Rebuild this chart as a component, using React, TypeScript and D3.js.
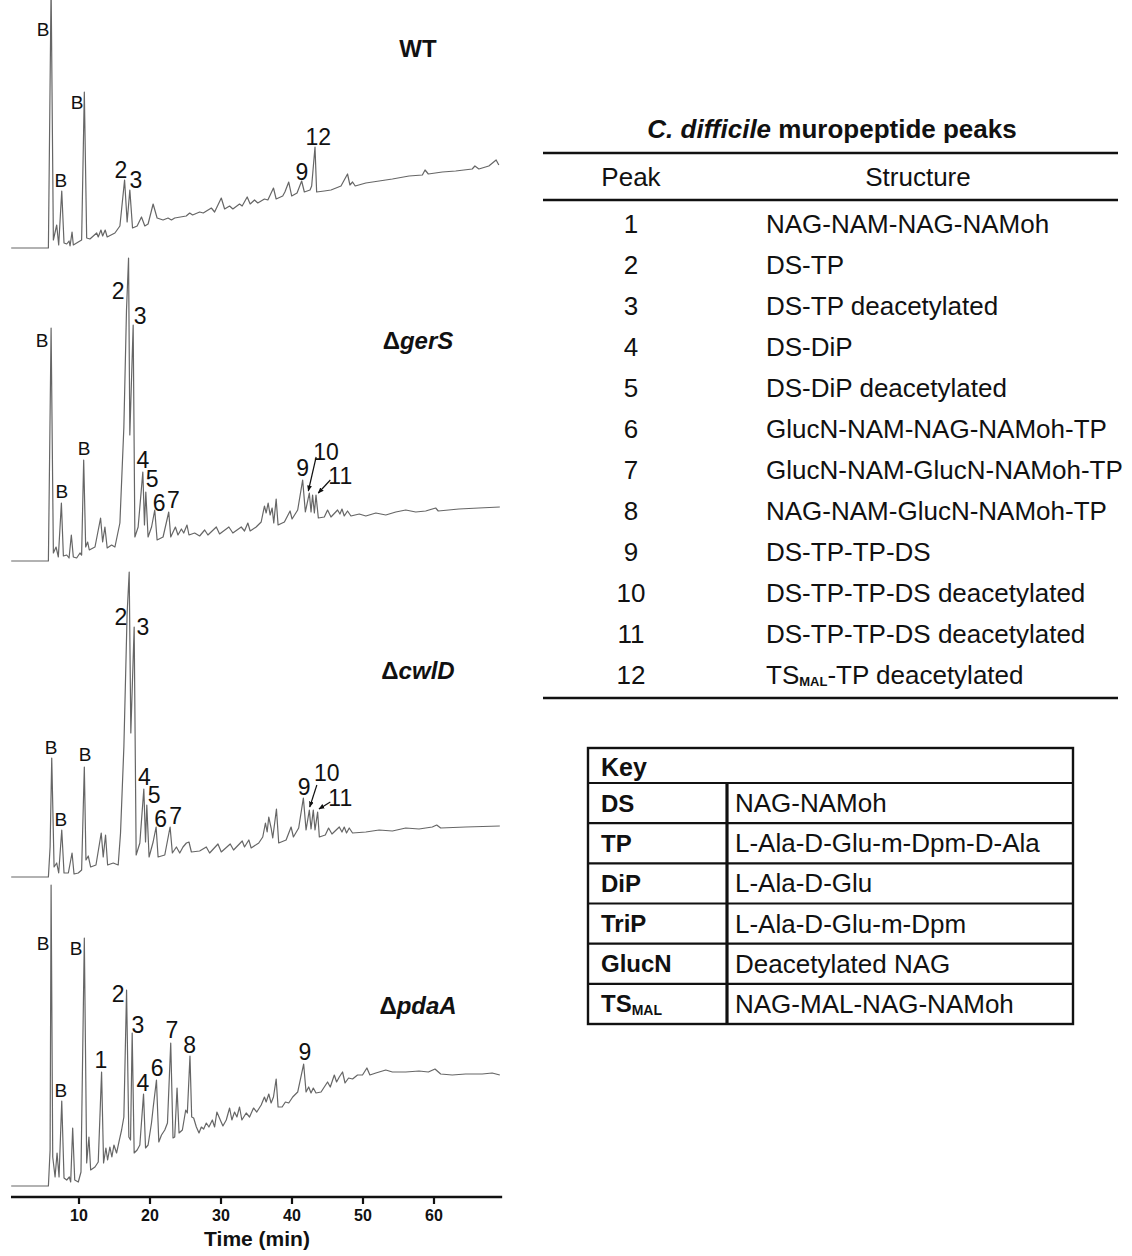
import React from "react";
import * as d3 from "d3";

const W = 1132;
const H = 1256;

// x axis (retention time, min)
const timeTicks = [10, 20, 30, 40, 50, 60];

// chromatogram traces: [time (min), signal above the pre-injection baseline]
const wtTrace: [number, number][] = [
  [0.45, 0], [5.69, 0], [6.07, 262], [6.39, 8], [6.86, 23], [7.14, 3], [7.57, 57], [7.89, 5], [8.27, 4],
  [8.6, 7], [8.74, 2], [9.02, 16], [9.2, 3], [9.9, 6], [10.37, 8], [10.75, 156], [11.08, 10], [11.54, 9],
  [12.49, 15], [12.71, 11], [13.09, 18], [13.33, 12], [13.69, 18], [13.97, 11], [15.06, 15], [15.76, 22],
  [16.42, 68], [16.78, 26], [17.16, 58], [17.54, 20], [18.19, 22], [18.8, 31], [19.27, 22], [19.73, 24],
  [20.44, 44], [21.0, 30], [21.84, 28], [22.54, 30], [23.02, 28], [23.48, 30], [25.1, 32], [25.59, 35],
  [26.0, 33], [27.0, 36], [27.5, 35], [28.64, 40], [29.1, 36], [30.04, 50], [30.51, 39], [31.21, 42],
  [31.67, 39], [32.61, 44], [32.98, 42], [33.69, 51], [34.11, 44], [34.72, 48], [35.18, 45], [36.12, 49],
  [36.6, 48], [37.39, 60], [37.77, 49], [38.69, 52], [39.0, 56], [39.54, 66], [39.96, 52], [40.71, 55],
  [41.36, 67], [41.74, 56], [42.54, 58], [42.77, 62], [43.24, 101], [43.47, 56], [44.55, 57], [45.49, 58],
  [46.2, 60], [46.9, 62], [47.82, 74], [48.16, 63], [48.53, 66], [48.9, 62], [50.4, 65], [52.27, 67],
  [54.14, 69], [56.49, 72], [58.36, 73], [58.74, 78], [59.2, 74], [61.17, 76], [63.05, 77], [65.38, 79],
  [65.76, 82], [66.32, 79], [67.72, 82], [68.75, 88], [69.13, 83],
];

const gersTrace: [number, number][] = [
  [0.45, 0], [5.69, 0], [6.07, 233], [6.39, 8], [6.77, 14], [7.09, 4], [7.52, 58], [7.8, 5], [8.27, 6],
  [8.6, 3], [8.92, 26], [9.2, 4], [9.67, 3], [10.14, 8], [10.37, 6], [10.66, 101], [10.94, 14], [11.22, 19],
  [11.45, 11], [12.25, 14], [13.04, 43], [13.33, 19], [13.65, 34], [13.97, 13], [14.59, 16], [15.06, 14],
  [15.76, 38], [16.32, 134], [16.69, 251], [16.98, 303], [17.16, 126], [17.63, 236], [17.87, 24], [18.33, 34],
  [18.99, 89], [19.22, 36], [19.41, 69], [19.73, 24], [20.22, 34], [20.67, 51], [21.0, 21], [21.84, 24],
  [22.64, 49], [22.92, 24], [23.58, 34], [23.94, 26], [24.42, 32], [24.75, 28], [25.21, 36], [25.49, 26],
  [26.29, 28], [26.99, 25], [27.7, 31], [28.16, 26], [29.34, 34], [29.8, 27], [31.11, 34], [31.67, 28],
  [32.85, 34], [33.31, 30], [33.78, 38], [34.11, 30], [34.95, 34], [35.66, 39], [36.12, 55], [36.36, 48],
  [36.64, 58], [36.92, 46], [37.2, 53], [37.43, 38], [37.77, 62], [38.04, 36], [38.93, 39], [39.73, 50],
  [40.01, 42], [40.8, 51], [41.5, 81], [41.88, 49], [42.44, 68], [42.68, 49], [42.9, 66], [43.15, 48],
  [43.38, 66], [43.71, 43], [44.55, 44], [45.01, 51], [45.49, 44], [46.42, 51], [46.75, 47], [47.04, 52],
  [47.36, 45], [47.82, 50], [48.3, 45], [49.47, 47], [50.4, 45], [51.81, 48], [53.21, 46], [54.62, 49],
  [56.02, 51], [57.43, 49], [58.83, 50], [60.24, 53], [60.6, 50], [63.51, 52], [66.32, 53], [69.27, 54],
];

const cwldTrace: [number, number][] = [
  [0.45, 0], [5.69, 0], [5.93, 30], [6.16, 119], [6.49, 10], [6.86, 14], [7.14, 4], [7.57, 47], [7.89, 4],
  [8.5, 4], [9.02, 24], [9.3, 3], [9.9, 4], [10.37, 7], [10.75, 110], [10.98, 17], [11.31, 21], [11.64, 10],
  [12.39, 12], [13.13, 44], [13.41, 20], [13.74, 42], [14.03, 12], [14.82, 14], [15.52, 12], [15.85, 44],
  [16.32, 130], [16.78, 264], [17.07, 305], [17.3, 144], [17.77, 250], [18.05, 22], [18.57, 34], [19.13, 88],
  [19.37, 35], [19.55, 72], [19.87, 20], [20.44, 35], [20.86, 50], [21.14, 20], [22.08, 22], [22.83, 50],
  [23.15, 24], [23.72, 30], [24.19, 24], [24.65, 30], [25.13, 34], [25.49, 35], [25.83, 25], [26.99, 26],
  [27.93, 30], [28.4, 24], [29.57, 33], [30.04, 25], [31.3, 33], [31.77, 27], [32.99, 36], [33.31, 30],
  [33.92, 37], [34.25, 29], [35.32, 34], [35.88, 40], [36.26, 54], [36.5, 45], [36.73, 60], [37.06, 49],
  [37.29, 39], [37.81, 68], [38.13, 34], [39.17, 37], [39.87, 50], [40.2, 40], [40.94, 49], [41.6, 79],
  [41.98, 47], [42.44, 67], [42.68, 48], [43.0, 67], [43.24, 47], [43.61, 65], [43.85, 40], [44.69, 42],
  [45.15, 49], [45.63, 43], [46.66, 50], [47.04, 45], [47.36, 50], [47.68, 44], [48.06, 49], [48.53, 44],
  [50.4, 45], [52.27, 47], [54.14, 46], [56.02, 49], [57.89, 48], [59.76, 50], [60.38, 52], [60.94, 49],
  [64.45, 50], [69.27, 51],
];

const pdaaTrace: [number, number][] = [
  [0.45, 0], [5.69, 0], [5.93, 36], [6.07, 301], [6.3, 29], [6.63, 9], [6.91, 33], [7.19, 9], [7.57, 85],
  [7.89, 8], [8.27, 6], [8.64, 9], [8.83, 4], [9.11, 58], [9.4, 6], [9.9, 4], [10.28, 14], [10.75, 248],
  [11.08, 23], [11.4, 49], [11.64, 16], [12.25, 19], [12.71, 24], [13.18, 114], [13.46, 23], [13.79, 38],
  [14.03, 26], [14.35, 39], [14.63, 29], [14.92, 41], [15.29, 33], [15.62, 44], [16.0, 56], [16.32, 69],
  [16.7, 196], [17.02, 49], [17.26, 46], [17.49, 153], [17.77, 33], [18.19, 36], [18.57, 41], [19.09, 92],
  [19.37, 38], [19.73, 41], [20.21, 63], [20.44, 78], [20.91, 106], [21.24, 44], [21.62, 51], [22.08, 56],
  [22.46, 63], [22.92, 143], [23.24, 48], [23.48, 49], [23.81, 98], [24.09, 53], [24.56, 56], [25.03, 76],
  [25.26, 73], [25.63, 130], [25.87, 69], [26.15, 68], [26.53, 59], [26.9, 53], [27.23, 59], [27.56, 57],
  [27.93, 63], [28.3, 59], [28.78, 66], [29.1, 59], [29.42, 74], [29.9, 66], [30.27, 60], [30.74, 66],
  [31.21, 78], [31.53, 66], [31.91, 74], [32.24, 69], [32.61, 79], [32.94, 66], [33.55, 73], [34.02, 69],
  [34.58, 78], [35.04, 74], [35.66, 81], [36.12, 89], [36.36, 84], [36.73, 92], [37.06, 83], [37.39, 89],
  [37.77, 107], [38.04, 79], [38.61, 79], [39.07, 84], [39.54, 83], [40.1, 89], [40.8, 94], [41.64, 122],
  [41.98, 94], [42.35, 99], [42.68, 93], [43.0, 98], [43.38, 93], [44.09, 94], [44.55, 99], [45.01, 104],
  [45.39, 99], [45.96, 111], [46.28, 104], [46.66, 109], [47.12, 114], [47.47, 103], [47.97, 108],
  [48.53, 107], [49.23, 111], [49.93, 111], [50.55, 118], [50.97, 111], [51.81, 113], [53.21, 116],
  [54.14, 114], [56.02, 114], [57.89, 115], [59.21, 114], [60.14, 117], [60.94, 112], [62.57, 111],
  [64.45, 112], [66.79, 112], [68.19, 113], [69.27, 111],
];

// peak annotations: [label, time, signal]
const wtLabels: [string, number, number][] = [
  ["B", 4.93, 219], ["B", 7.46, 68], ["B", 9.72, 146], ["2", 15.9, 78], ["3", 18.0, 68],
  ["9", 41.4, 76], ["12", 43.7, 111],
];
const gersLabels: [string, number, number][] = [
  ["B", 4.79, 221], ["B", 7.6, 70], ["B", 10.7, 113], ["2", 15.5, 270], ["3", 18.6, 245],
  ["4", 19.0, 101], ["5", 20.3, 82], ["6", 21.3, 58], ["7", 23.3, 61], ["9", 41.5, 93],
  ["10", 44.8, 109], ["11", 46.8, 85],
];
const cwldLabels: [string, number, number][] = [
  ["B", 6.06, 130], ["B", 7.46, 58], ["B", 10.85, 123], ["2", 15.9, 260], ["3", 19.0, 250],
  ["4", 19.2, 100], ["5", 20.6, 82], ["6", 21.5, 58], ["7", 23.6, 61], ["9", 41.7, 90],
  ["10", 44.9, 104], ["11", 46.8, 79],
];
const pdaaLabels: [string, number, number][] = [
  ["B", 4.93, 243], ["B", 7.46, 96], ["B", 9.58, 238], ["1", 13.1, 126], ["2", 15.5, 192],
  ["3", 18.3, 161], ["4", 19.0, 103], ["6", 21.0, 118], ["7", 23.1, 156], ["8", 25.6, 141],
  ["9", 41.8, 134],
];

// arrows from labels 10 / 11 to their peaks: [t0, s0, t1, s1]
const gersArrows: [number, number, number, number][] = [
  [43.4, 104, 42.3, 70], [45.4, 81, 43.7, 68],
];
const cwldArrows: [number, number, number, number][] = [
  [43.5, 92, 42.5, 70], [45.4, 75, 43.8, 68],
];

// table of muropeptide peaks
const peakIds = ["1", "2", "3", "4", "5", "6", "7", "8", "9", "10", "11", "12"];
const peakStructures = [
  "NAG-NAM-NAG-NAMoh",
  "DS-TP",
  "DS-TP deacetylated",
  "DS-DiP",
  "DS-DiP deacetylated",
  "GlucN-NAM-NAG-NAMoh-TP",
  "GlucN-NAM-GlucN-NAMoh-TP",
  "NAG-NAM-GlucN-NAMoh-TP",
  "DS-TP-TP-DS",
  "DS-TP-TP-DS deacetylated",
  "DS-TP-TP-DS deacetylated",
  "TS_MAL-TP deacetylated",
];

// key of abbreviations
const keyTerms = ["DS", "TP", "DiP", "TriP", "GlucN", "TS_MAL"];
const keyMeanings = [
  "NAG-NAMoh",
  "L-Ala-D-Glu-m-Dpm-D-Ala",
  "L-Ala-D-Glu",
  "L-Ala-D-Glu-m-Dpm",
  "Deacetylated NAG",
  "NAG-MAL-NAG-NAMoh",
];

const FONT = "'Liberation Sans', Arial, Helvetica, sans-serif";

// renders "TS_MAL..." with a bold subscript
function withSub(s: string, subSize: number, shift: number) {
  if (!s.startsWith("TS_MAL")) return s;
  const rest = s.slice(6);
  return (
    <>
      TS
      <tspan fontSize={subSize} fontWeight="bold" dy={shift}>MAL</tspan>
      {rest ? <tspan dy={-shift}>{rest}</tspan> : null}
    </>
  );
}

export default function App() {
  const x = d3.scaleLinear().domain([0, 70]).range([8, 505]);

  const panels = [
    { key: "wt", base: 248, trace: wtTrace, labels: wtLabels, arrows: [] as [number, number, number, number][], title: ["", "WT"], titleH: 200 },
    { key: "gers", base: 561, trace: gersTrace, labels: gersLabels, arrows: gersArrows, title: ["Δ", "gerS"], titleH: 221 },
    { key: "cwld", base: 877, trace: cwldTrace, labels: cwldLabels, arrows: cwldArrows, title: ["Δ", "cwlD"], titleH: 207 },
    { key: "pdaa", base: 1186, trace: pdaaTrace, labels: pdaaLabels, arrows: [] as [number, number, number, number][], title: ["Δ", "pdaA"], titleH: 181 },
  ];

  const axisY = 1197;
  const rowY = d3.scaleLinear().domain([0, 11]).range([224, 675]);
  const keyY = d3.scaleBand<number>().domain(d3.range(keyTerms.length)).range([783, 1024]);

  return (
    <div style={{ position: "absolute", left: 0, top: 0 }}>
      <svg width={W} height={H} style={{ display: "block", background: "#fff" }} fontFamily={FONT}>
        <defs>
          <marker id="arrow" viewBox="0 0 10 10" refX="9" refY="5" markerWidth="5" markerHeight="5" orient="auto">
            <path d="M0,1 L10,5 L0,9 z" fill="#111" />
          </marker>
        </defs>
        <rect width={W} height={H} fill="#fff" />

        {panels.map((p) => {
          const y = d3.scaleLinear().domain([0, 300]).range([p.base, p.base - 300]);
          const line = d3
            .line<[number, number]>()
            .x((d) => x(d[0]))
            .y((d) => y(d[1]));
          return (
            <g key={p.key}>
              <path d={line(p.trace) ?? ""} fill="none" stroke="#666" strokeWidth={1.2} strokeLinejoin="round" />
              {p.labels.map(([txt, t, s], i) => (
                <text
                  key={i}
                  x={x(t)}
                  y={y(s)}
                  textAnchor="middle"
                  dominantBaseline="central"
                  fontSize={txt === "B" ? 19 : 23}
                  fill="#111"
                >
                  {txt}
                </text>
              ))}
              {p.arrows.map(([t0, s0, t1, s1], i) => (
                <line
                  key={i}
                  x1={x(t0)}
                  y1={y(s0)}
                  x2={x(t1)}
                  y2={y(s1)}
                  stroke="#111"
                  strokeWidth={1.2}
                  markerEnd="url(#arrow)"
                />
              ))}
              <text x={418} y={p.base - p.titleH} textAnchor="middle" dominantBaseline="central" fontSize={24} fontWeight="bold" fill="#111">
                {p.title[0]}
                <tspan fontStyle={p.title[0] ? "italic" : "normal"}>{p.title[1]}</tspan>
              </text>
            </g>
          );
        })}

        {/* time axis */}
        <line x1={x(0.42)} x2={x(69.6)} y1={axisY} y2={axisY} stroke="#111" strokeWidth={2.6} />
        {timeTicks.map((t) => (
          <g key={t}>
            <line x1={x(t)} x2={x(t)} y1={axisY} y2={axisY + 7} stroke="#111" strokeWidth={2.2} />
            <text x={x(t)} y={axisY + 18} textAnchor="middle" dominantBaseline="central" fontSize={16} fontWeight="bold" fill="#111">
              {t}
            </text>
          </g>
        ))}
        <text x={257} y={1238} textAnchor="middle" dominantBaseline="central" fontSize={21} fontWeight="bold" fill="#111">
          Time (min)
        </text>

        {/* peak table */}
        <text x={832} y={129} textAnchor="middle" dominantBaseline="central" fontSize={26} fontWeight="bold" fill="#111">
          <tspan fontStyle="italic">C. difficile</tspan> muropeptide peaks
        </text>
        <line x1={543} x2={1118} y1={153} y2={153} stroke="#111" strokeWidth={2.6} />
        <text x={631} y={177} textAnchor="middle" dominantBaseline="central" fontSize={26} fill="#111">Peak</text>
        <text x={918} y={177} textAnchor="middle" dominantBaseline="central" fontSize={26} fill="#111">Structure</text>
        <line x1={543} x2={1118} y1={200} y2={200} stroke="#111" strokeWidth={2.4} />
        {peakIds.map((id, i) => (
          <g key={id}>
            <text x={631} y={rowY(i)} textAnchor="middle" dominantBaseline="central" fontSize={26} fill="#111">{id}</text>
            <text x={766} y={rowY(i)} dominantBaseline="central" fontSize={26} fill="#111">
              {withSub(peakStructures[i], 13, 6)}
            </text>
          </g>
        ))}
        <line x1={543} x2={1118} y1={698} y2={698} stroke="#111" strokeWidth={2.6} />

        {/* key */}
        <g stroke="#111" fill="none">
          <rect x={588} y={748} width={485} height={276} strokeWidth={2.4} />
          <line x1={588} x2={1073} y1={783} y2={783} strokeWidth={2.2} />
          {keyTerms.slice(1).map((_, i) => (
            <line key={i} x1={588} x2={1073} y1={keyY(i + 1)} y2={keyY(i + 1)} strokeWidth={2.2} />
          ))}
          <line x1={727} x2={727} y1={783} y2={1024} strokeWidth={3.2} />
        </g>
        <text x={601} y={767} dominantBaseline="central" fontSize={25} fontWeight="bold" fill="#111">Key</text>
        {keyTerms.map((k, i) => {
          const cy = (keyY(i) ?? 0) + keyY.bandwidth() / 2;
          return (
            <g key={k}>
              <text x={601} y={cy} dominantBaseline="central" fontSize={24} fontWeight="bold" fill="#111">
                {withSub(k, 14, 6)}
              </text>
              <text x={735} y={cy} dominantBaseline="central" fontSize={26} fill="#111">{keyMeanings[i]}</text>
            </g>
          );
        })}
      </svg>
    </div>
  );
}
